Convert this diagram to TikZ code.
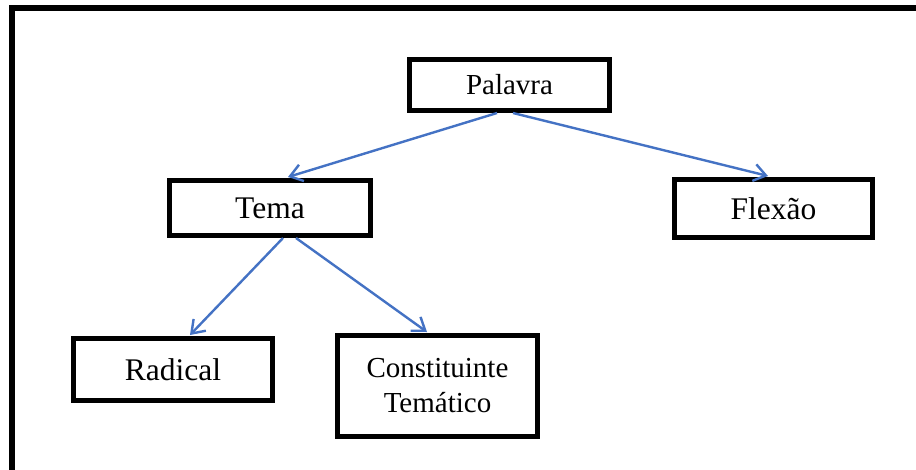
\documentclass[tikz,border=0pt]{standalone}
\usepackage{fontspec}
\setmainfont{Liberation Serif}
\usetikzlibrary{arrows.meta}
\definecolor{arrowblue}{RGB}{68,114,196}
\begin{document}
\begin{tikzpicture}[x=1pt,y=-1pt,
  box/.style={draw=black,line width=5pt,fill=white,inner sep=0pt,align=center,font=\fontsize{31.5}{38}\selectfont},
  link/.style={draw=arrowblue,line width=2.4pt,-{Straight Barb[length=12pt,width=17pt,line width=2.4pt]}}]
\useasboundingbox (0,0) rectangle (916,469);
\clip (0,0) rectangle (916,469);
\fill[white] (0,0) rectangle (916,469);
\draw[line width=6pt] (12,480) -- (12,8) -- (930,8);
\node[box,minimum width=200pt,minimum height=51pt,font=\fontsize{29}{35}\selectfont] (P) at (509.5,85) {Palavra};
\node[box,minimum width=201pt,minimum height=55pt] (T) at (270,208) {Tema};
\node[box,minimum width=198pt,minimum height=58pt] (F) at (773.5,208.5) {Flexão};
\node[box,minimum width=199pt,minimum height=62pt] (R) at (173,369.5) {Radical};
\node[box,minimum width=200pt,minimum height=101pt,font=\fontsize{29}{35}\selectfont] (C) at (437.5,386) {Constituinte\\Temático};
\draw[link] ([xshift=-12.5pt]P.south) -- ([xshift=18pt,yshift=1pt]T.north);
\draw[link] ([xshift=3.5pt]P.south) -- ([xshift=-5.5pt,yshift=1pt]F.north);
\draw[link] ([xshift=13pt]T.south) -- ([xshift=17pt,yshift=1pt]R.north);
\draw[link] ([xshift=26pt]T.south) -- ([xshift=-10.5pt,yshift=1pt]C.north);
\end{tikzpicture}
\end{document}
